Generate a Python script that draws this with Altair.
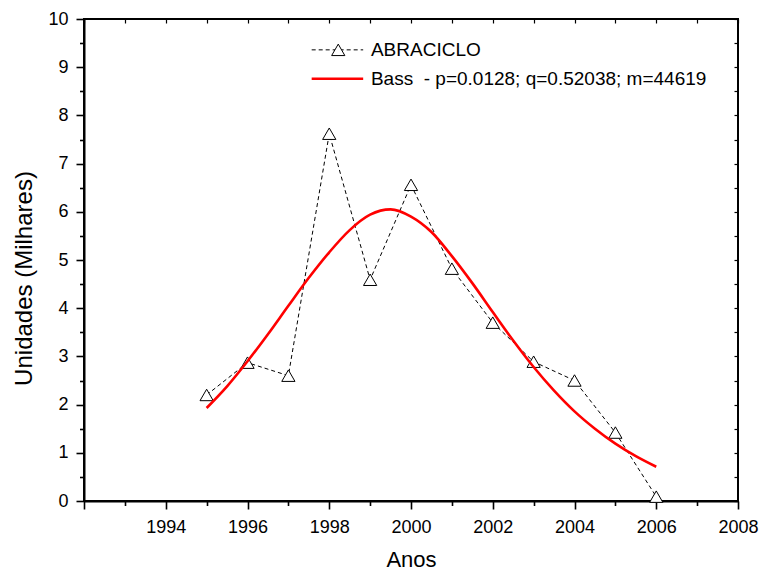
import altair as alt
import pandas as pd

# ---- data ----
years = [1995, 1996, 1997, 1998, 1999, 2000, 2001, 2002, 2003, 2004, 2005, 2006]
units = [2.20, 2.87, 2.60, 7.62, 4.59, 6.56, 4.82, 3.70, 2.89, 2.50, 1.42, 0.09]

bass_years = [1995.0, 1995.5, 1996.0, 1996.5, 1997.0, 1997.5, 1998.0, 1998.5,
              1999.0, 1999.5, 2000.0, 2000.5, 2001.0, 2001.5, 2002.0, 2002.5,
              2003.0, 2003.5, 2004.0, 2004.5, 2005.0, 2005.5, 2006.0]
bass_values = [1.93, 2.38, 2.90, 3.46, 4.05, 4.63, 5.16, 5.62,
               5.94, 6.05, 5.90, 5.58, 5.08, 4.52, 3.92, 3.33,
               2.78, 2.29, 1.86, 1.50, 1.19, 0.93, 0.71]

series_labels = ["ABRACICLO", "Bass\u00a0 - p=0.0128; q=0.52038; m=44619"]

x_ticks = list(range(1992, 2009))
y_ticks = [i * 0.5 for i in range(21)]

FONT = "Liberation Sans"

obs = pd.DataFrame({"ano": years, "valor": units})
bass = pd.DataFrame({"ano": bass_years, "valor": bass_values})

# legend placement (in data units)
leg_x0, leg_x1, leg_sym, leg_text = 1997.57, 1998.83, 1998.22, 1999.02
leg_rows = [9.36, 8.76]
legend_df = pd.DataFrame({"x0": [leg_x0] * 2, "x1": [leg_x1] * 2,
                          "xs": [leg_sym] * 2, "xt": [leg_text] * 2,
                          "y": leg_rows, "label": series_labels})

xs = alt.Scale(domain=[1992, 2008], nice=False, zero=False)
ys = alt.Scale(domain=[0, 10], nice=False, zero=False)

x_axis = alt.Axis(
    values=x_ticks, format="d", title="Anos",
    labelExpr="datum.value % 2 === 0 && datum.value > 1992 ? datum.label : ''",
    tickSize={"condition": {"test": "datum.value % 2 === 0", "value": 8}, "value": 4.5},
    tickWidth=1.6, tickColor="black", domainColor="black", domainWidth=2,
    labelFont=FONT, labelFontSize=18, labelColor="black", labelPadding=9,
    labelFlush=False, labelOverlap=False,
    titleFont=FONT, titleFontSize=22, titleFontWeight="normal", titleColor="black",
    titlePadding=13, grid=False,
)
y_axis = alt.Axis(
    values=y_ticks, title="Unidades (Milhares)",
    labelExpr="datum.value % 1 === 0 ? format(datum.value, 'd') : ''",
    tickSize={"condition": {"test": "datum.value % 1 === 0", "value": 8}, "value": 4.5},
    tickWidth=1.6, tickColor="black", domainColor="black", domainWidth=2,
    labelFont=FONT, labelFontSize=18, labelColor="black", labelPadding=8,
    labelFlush=False, labelOverlap=False,
    titleFont=FONT, titleFontSize=24, titleFontWeight="normal", titleColor="black",
    titlePadding=11, titleY=259, grid=False,
)
x_top = alt.Axis(orient="top", values=x_ticks, labels=False, title=None, domain=False,
                 tickSize=4, offset=-4, tickColor="black", tickWidth=1.2, grid=False)
y_right = alt.Axis(orient="right", values=y_ticks, labels=False, title=None, domain=False,
                   tickSize=4, offset=-4, tickColor="black", tickWidth=1.2, grid=False)

obs_line = alt.Chart(obs).mark_line(
    color="black", strokeWidth=1, strokeDash=[4, 3]
).encode(
    x=alt.X("ano:Q", scale=xs, axis=x_axis),
    y=alt.Y("valor:Q", scale=ys, axis=y_axis),
)

tri = dict(shape="triangle-up", size=175, filled=False, fill="white", fillOpacity=1,
           stroke="black", strokeWidth=1, opacity=1)

obs_pts = alt.Chart(obs).mark_point(**tri).encode(
    x=alt.X("ano:Q", scale=xs, axis=None),
    y=alt.Y("valor:Q", scale=ys, axis=None),
)

bass_line = alt.Chart(bass).mark_line(
    color="#ff0000", strokeWidth=2.6, interpolate="monotone"
).encode(
    x=alt.X("ano:Q", scale=xs, axis=x_top),
    y=alt.Y("valor:Q", scale=ys, axis=y_right),
)

leg_obs = legend_df.iloc[:1]
leg_bass = legend_df.iloc[1:]

leg_line_obs = alt.Chart(leg_obs).mark_rule(
    color="black", strokeWidth=1, strokeDash=[4, 3]
).encode(
    x=alt.X("x0:Q", scale=xs, axis=None), x2="x1:Q",
    y=alt.Y("y:Q", scale=ys, axis=None),
)
leg_line_bass = alt.Chart(leg_bass).mark_rule(
    color="#ff0000", strokeWidth=2.6
).encode(
    x=alt.X("x0:Q", scale=xs, axis=None), x2="x1:Q",
    y=alt.Y("y:Q", scale=ys, axis=None),
)
leg_sym_mark = alt.Chart(leg_obs).mark_point(**tri).encode(
    x=alt.X("xs:Q", scale=xs, axis=None),
    y=alt.Y("y:Q", scale=ys, axis=None),
)
leg_txt = alt.Chart(legend_df).mark_text(
    align="left", baseline="middle", font=FONT, fontSize=19, color="black"
).encode(
    x=alt.X("xt:Q", scale=xs, axis=None),
    y=alt.Y("y:Q", scale=ys, axis=None),
    text="label:N",
)

chart = alt.layer(
    obs_line, obs_pts, bass_line, leg_line_obs, leg_line_bass, leg_sym_mark, leg_txt
).resolve_axis(
    x="independent", y="independent"
).properties(
    width=654, height=482,
    autosize=alt.AutoSizeParams(type="none"),
    padding={"left": 84, "top": 19, "right": 22, "bottom": 73},
    background="white",
).configure_view(
    stroke="black", strokeWidth=2
)

chart.save("out.html", embed_options={"renderer": "svg", "actions": False})
